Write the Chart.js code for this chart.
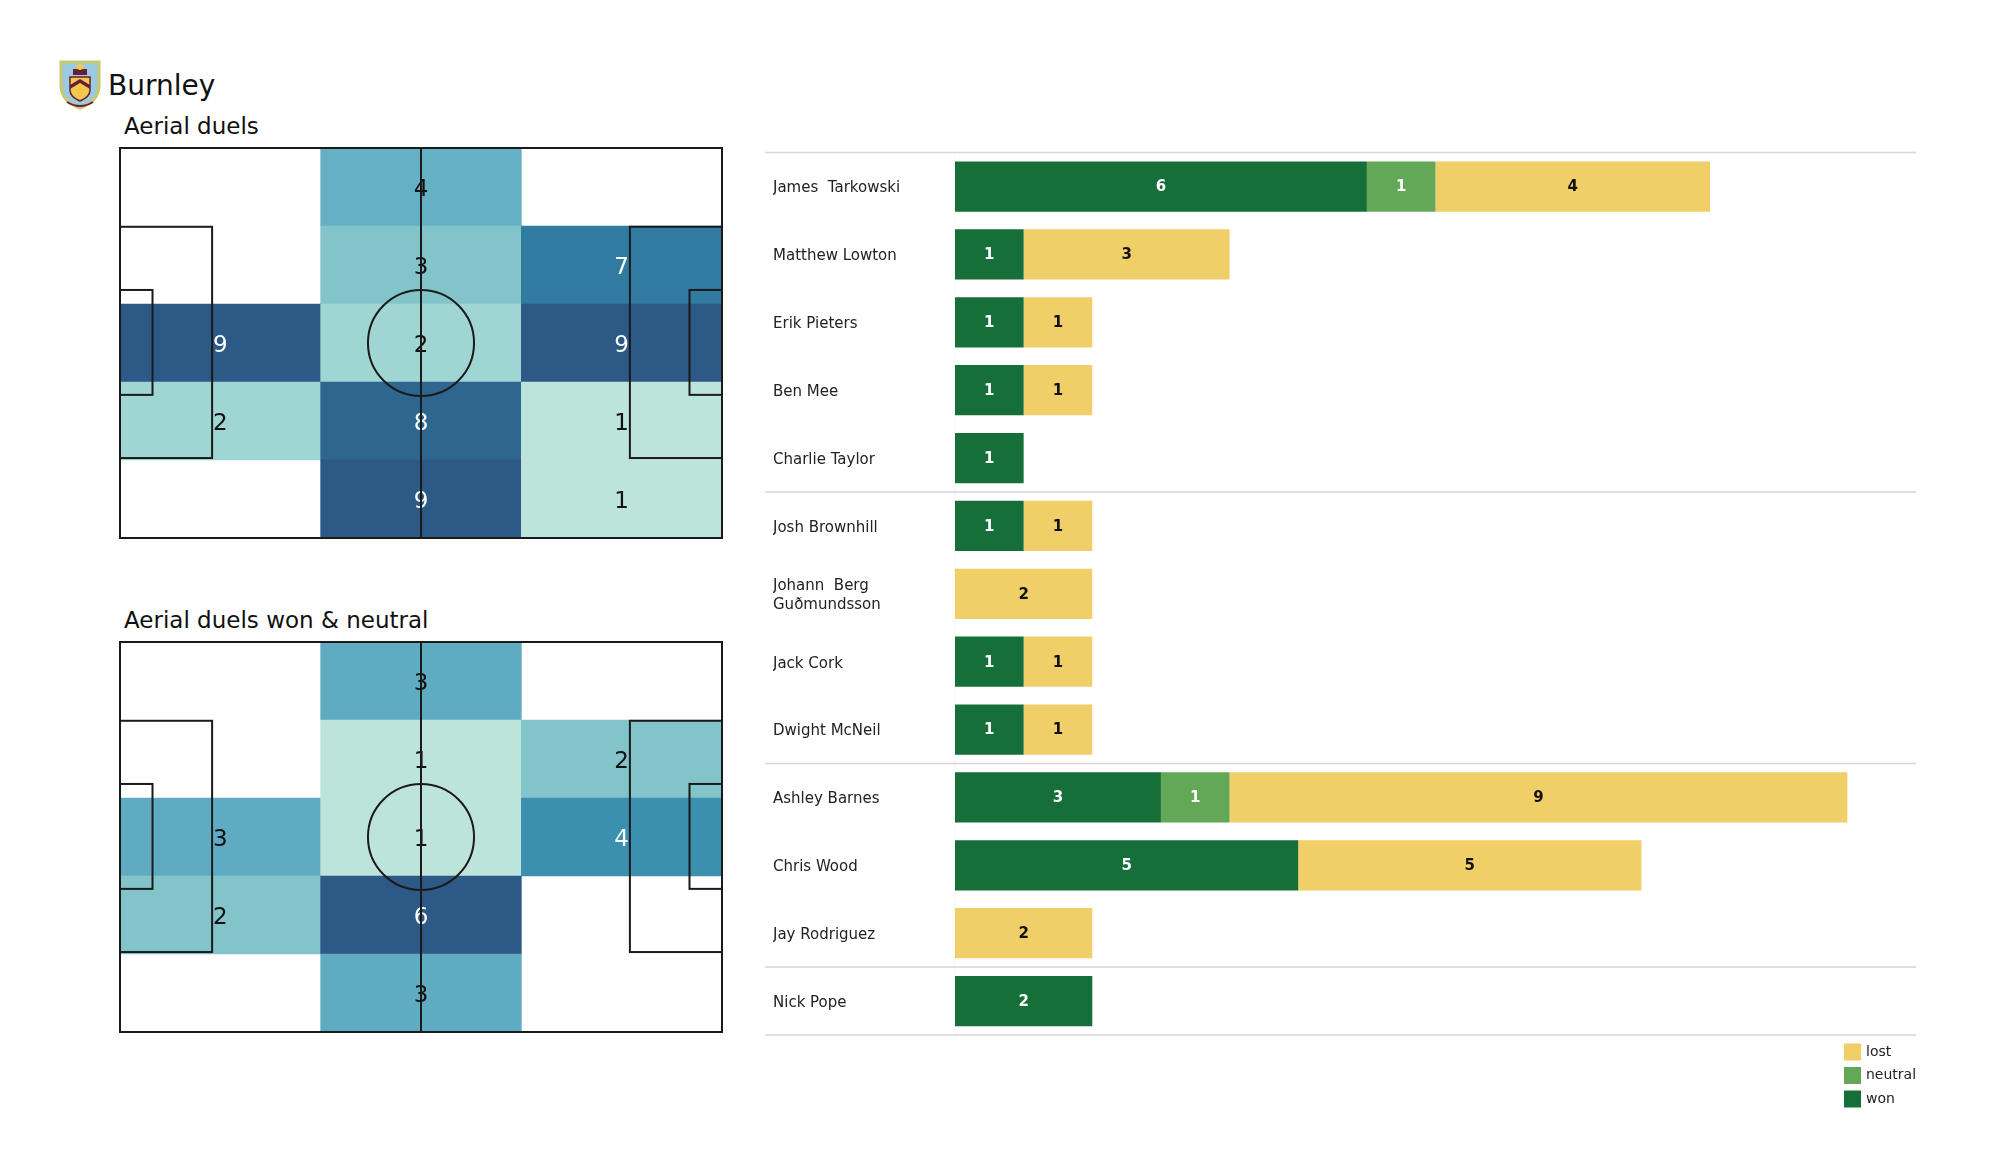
<!DOCTYPE html>
<html>
<head>
<meta charset="utf-8">
<script src="https://cdn.jsdelivr.net/npm/chart.js@4"></script>
<style>
  body { margin: 0; background: #fff; font-family: "DejaVu Sans", sans-serif; color: #111; }
  #pagina { position: relative; width: 2000px; height: 1175px; overflow: hidden; }
  .texto { position: absolute; white-space: nowrap; line-height: 1; }
  canvas { position: absolute; }
</style>
</head>
<body>
<div id="pagina">
  <svg width="42" height="50" viewBox="0 0 42 50" style="position:absolute; left:59px; top:60px">
    <path d="M2 2 H40 V26 C40 38 30 45 21 48 C12 45 2 38 2 26 Z" fill="#9ccbe0" stroke="#c9c86c" stroke-width="3"/>
    <path d="M11 17 H31 V30 C31 36 26 39 21 41 C16 39 11 36 11 30 Z" fill="#f2c94c" stroke="#6a1e34" stroke-width="1.5"/>
    <path d="M11 25 L21 19 L31 25 L31 29 L21 23 L11 29 Z" fill="#6a1e34"/>
    <rect x="14" y="9" width="14" height="6" fill="#6a1e34"/>
    <circle cx="21" cy="7" r="3" fill="#f2c94c"/>
    <path d="M8 42 Q21 50 34 42" fill="none" stroke="#6a1e34" stroke-width="2"/>
  </svg>
  <div class="texto" style="left:108px; top:72px; font-size:28px">Burnley</div>
  <div class="texto" style="left:124px; top:115px; font-size:23px">Aerial duels</div>
  <div class="texto" style="left:124px; top:609px; font-size:23px">Aerial duels won &amp; neutral</div>
  <canvas id="mapa1" width="622" height="410" style="left:110px; top:138px"></canvas>
  <canvas id="mapa2" width="622" height="410" style="left:110px; top:632px"></canvas>
  <canvas id="barras" width="1170" height="1000" style="left:765px; top:140px"></canvas>
</div>

<script>
Chart.defaults.font.family = '"DejaVu Sans", sans-serif';

// dados dos mapas (linhas de cima para baixo, colunas da esquerda para a direita)
const colunasCampo = ['esquerda', 'centro', 'direita'];
const duelosAereos = [
  [0, 4, 0],
  [0, 3, 7],
  [9, 2, 9],
  [2, 8, 1],
  [0, 9, 1]
];
const duelosGanhosNeutros = [
  [0, 3, 0],
  [0, 1, 2],
  [3, 1, 4],
  [2, 6, 0],
  [0, 3, 0]
];

// dados das barras
const jogadores = [
  'James  Tarkowski', 'Matthew Lowton', 'Erik Pieters', 'Ben Mee', 'Charlie Taylor',
  'Josh Brownhill', ['Johann  Berg', 'Guðmundsson'], 'Jack Cork', 'Dwight McNeil',
  'Ashley Barnes', 'Chris Wood', 'Jay Rodriguez', 'Nick Pope'
];
const ganhos   = [6, 1, 1, 1, 1, 1, 0, 1, 1, 3, 5, 0, 2];
const neutros  = [1, 0, 0, 0, 0, 0, 0, 0, 0, 1, 0, 0, 0];
const perdidos = [4, 3, 1, 1, 0, 1, 2, 1, 1, 9, 5, 2, 0];
const inicioGrupos = [5, 9, 12];

const escalaCores = [
  [0, [190, 229, 219]], [0.17, [189, 228, 218]], [0.22, [160, 213, 211]],
  [0.33, [132, 197, 202]], [0.45, [99, 176, 195]], [0.5, [95, 172, 194]],
  [0.67, [58, 143, 176]], [0.78, [49, 123, 160]], [0.89, [46, 102, 144]],
  [1, [44, 89, 133]]
];

function corMapa(t) {
  if (!(t > 0)) return 'rgba(0,0,0,0)';
  for (let i = 1; i < escalaCores.length; i++) {
    const [t1, c1] = escalaCores[i];
    if (t <= t1) {
      const [t0, c0] = escalaCores[i - 1];
      const f = (t - t0) / (t1 - t0);
      const c = c0.map((v, k) => Math.round(v + (c1[k] - v) * f));
      return `rgb(${c.join(',')})`;
    }
  }
  return 'rgb(44,89,133)';
}

// numeros dentro das celulas
const rotulosMapa = {
  id: 'rotulosMapa',
  afterDatasetsDraw(chart) {
    const ctx = chart.ctx;
    const dados = chart.data.datasets[0].data;
    const maximo = Math.max(...dados.map(d => d.v));
    ctx.save();
    ctx.font = '23px "DejaVu Sans"';
    ctx.textAlign = 'center';
    ctx.textBaseline = 'middle';
    chart.getDatasetMeta(0).data.forEach((el, i) => {
      const v = dados[i].v;
      if (!v) return;
      const p = el.getCenterPoint();
      ctx.fillStyle = v / maximo >= 0.6 ? '#ffffff' : '#111111';
      ctx.fillText(v, p.x, p.y + 3);
    });
    ctx.restore();
  }
};

// linhas do campo
const linhasCampo = {
  id: 'linhasCampo',
  afterDraw(chart) {
    const { left, right, top, bottom } = chart.chartArea;
    const w = right - left, h = bottom - top;
    const ctx = chart.ctx;
    ctx.save();
    ctx.strokeStyle = '#1a1a1a';
    ctx.lineWidth = 2;
    ctx.strokeRect(left, top, w, h);
    ctx.beginPath();
    ctx.moveTo(left + w / 2, top);
    ctx.lineTo(left + w / 2, bottom);
    ctx.stroke();
    ctx.beginPath();
    ctx.arc(left + w / 2, top + h / 2, h * 0.136, 0, Math.PI * 2);
    ctx.stroke();
    [[0.153, 0.202, 0.795], [0.054, 0.364, 0.633]].forEach(([prof, y1, y2]) => {
      ctx.strokeRect(left, top + h * y1, w * prof, h * (y2 - y1));
      ctx.strokeRect(right - w * prof, top + h * y1, w * prof, h * (y2 - y1));
    });
    ctx.restore();
  }
};

function criarMapaCalor(id, linhas) {
  const maximo = Math.max(...linhas.flat());
  const celulas = [];
  linhas.forEach((linha, r) => {
    linha.forEach((valor, c) => {
      celulas.push({ x: colunasCampo[c], y: [r, r + 1], v: valor });
    });
  });

  new Chart(document.getElementById(id), {
    type: 'bar',
    data: {
      labels: colunasCampo,
      datasets: [{
        data: celulas,
        backgroundColor: ctx => ctx.raw ? corMapa(ctx.raw.v / maximo) : 'rgba(0,0,0,0)',
        borderWidth: 0,
        categoryPercentage: 1,
        barPercentage: 1
      }]
    },
    options: {
      responsive: false,
      animation: false,
      layout: { padding: 10 },
      plugins: { legend: { display: false }, tooltip: { enabled: false } },
      scales: {
        x: { display: false },
        y: { display: false, min: 0, max: linhas.length, reverse: true }
      }
    },
    plugins: [rotulosMapa, linhasCampo]
  });
}

// grafico barras
const separadores = {
  id: 'separadores',
  beforeDatasetsDraw(chart) {
    const { left, right, top, bottom } = chart.chartArea;
    const y = chart.scales.y;
    const ctx = chart.ctx;
    const posicoes = [top, ...inicioGrupos.map(i => (y.getPixelForValue(i - 1) + y.getPixelForValue(i)) / 2), bottom];
    ctx.save();
    ctx.strokeStyle = '#d6d6d6';
    ctx.lineWidth = 1.5;
    posicoes.forEach(p => {
      ctx.beginPath();
      ctx.moveTo(0, p);
      ctx.lineTo(right, p);
      ctx.stroke();
    });
    ctx.strokeStyle = '#ececec';
    ctx.lineWidth = 1;
    ctx.setLineDash([2, 2]);
    ctx.beginPath();
    ctx.moveTo(left, top);
    ctx.lineTo(left, bottom);
    ctx.stroke();
    ctx.restore();
  }
};

const valoresBarras = {
  id: 'valoresBarras',
  afterDatasetsDraw(chart) {
    const ctx = chart.ctx;
    ctx.save();
    ctx.font = 'bold 15px "DejaVu Sans"';
    ctx.textAlign = 'center';
    ctx.textBaseline = 'middle';
    chart.data.datasets.forEach((ds, d) => {
      chart.getDatasetMeta(d).data.forEach((el, i) => {
        if (!ds.data[i]) return;
        const p = el.getCenterPoint();
        ctx.fillStyle = ds.label === 'lost' ? '#111111' : '#ffffff';
        ctx.fillText(ds.data[i], p.x, p.y + 1);
      });
    });
    ctx.restore();
  }
};

const legendaBarras = {
  id: 'legendaBarras',
  afterDraw(chart) {
    const { right, bottom } = chart.chartArea;
    const ctx = chart.ctx;
    ctx.save();
    ctx.font = '14px "DejaVu Sans"';
    ctx.textBaseline = 'middle';
    chart.data.datasets.slice().reverse().forEach((ds, i) => {
      const yc = bottom + 17 + i * 23.5;
      ctx.fillStyle = ds.backgroundColor;
      ctx.fillRect(right - 72, yc - 8.5, 17, 17);
      ctx.fillStyle = '#222222';
      ctx.fillText(ds.label, right - 50, yc);
    });
    ctx.restore();
  }
};

function criarGraficoBarras() {
  new Chart(document.getElementById('barras'), {
    type: 'bar',
    data: {
      labels: jogadores,
      datasets: [
        { label: 'won', data: ganhos, backgroundColor: '#166e38' },
        { label: 'neutral', data: neutros, backgroundColor: '#62a856' },
        { label: 'lost', data: perdidos, backgroundColor: '#f0ce68' }
      ]
    },
    options: {
      indexAxis: 'y',
      responsive: false,
      animation: false,
      datasets: { bar: { categoryPercentage: 1, barPercentage: 0.74 } },
      layout: { padding: { left: 8, right: 19, top: 12, bottom: 105 } },
      plugins: { legend: { display: false }, tooltip: { enabled: false } },
      scales: {
        x: { display: false, stacked: true, min: 0, max: 14 },
        y: {
          stacked: true,
          grid: { display: false },
          border: { display: false },
          ticks: {
            crossAlign: 'far', autoSkip: false, color: '#222222', labelOffset: 2,
            font: { size: 15, lineHeight: 1.28 }
          },
          afterFit: escala => { escala.width = 182; }
        }
      }
    },
    plugins: [separadores, valoresBarras, legendaBarras]
  });
}

criarMapaCalor('mapa1', duelosAereos);
criarMapaCalor('mapa2', duelosGanhosNeutros);
criarGraficoBarras();
</script>
</body>
</html>
